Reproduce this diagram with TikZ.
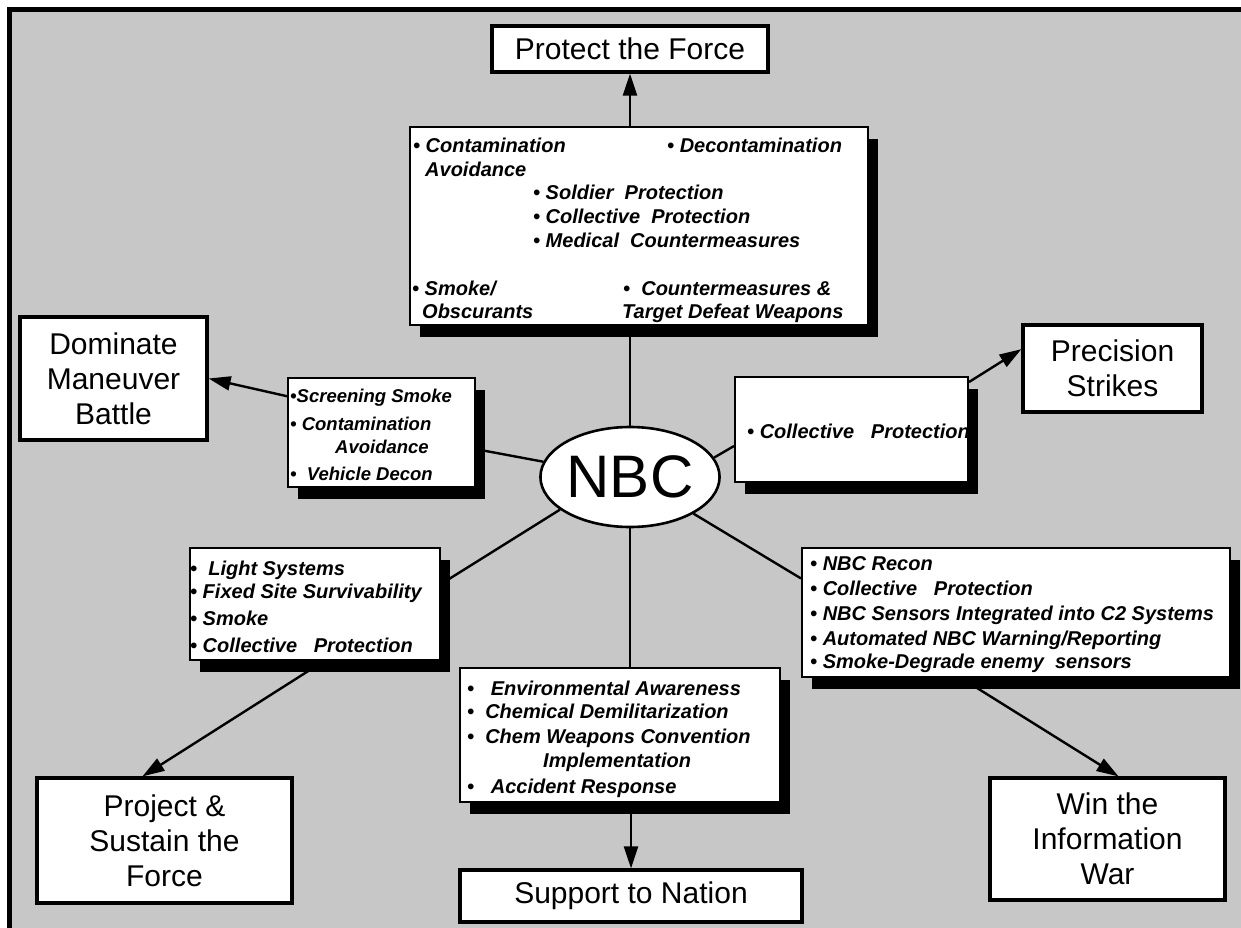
\documentclass[tikz,border=0pt]{standalone}
\usepackage{fontspec}
\setmainfont{Liberation Sans}
\usetikzlibrary{shapes.geometric,arrows.meta,shadows}

\begin{document}
\begin{tikzpicture}[x=1pt,y=-1pt,
  goal/.style={draw=black,line width=3.2pt,fill=white,inner sep=0pt,align=center,font=\fontsize{30}{35}\selectfont},
  card/.style={draw=black,line width=2pt,fill=white,inner sep=0pt,drop shadow={shadow xshift=10pt,shadow yshift=-12pt,fill=black,opacity=1}},
  item/.style={anchor=base west,inner sep=0pt,font=\fontsize{20}{22}\selectfont\bfseries\itshape},
  small/.style={item,font=\fontsize{18.5}{21}\selectfont\bfseries\itshape},
  link/.style={line width=2.4pt},
  flow/.style={line width=2.4pt,-{Triangle[length=22pt,width=14pt]}}]
\useasboundingbox (0,0) rectangle (1241,928);
\fill[white] (0,0) rectangle (1241,928);
\fill[black!22] (9,9) rectangle (1241,928);
\draw[line width=4.5pt] (9.5,928) -- (9.5,9.5) -- (1241,9.5);
% goals
\node[goal,minimum width=276pt,minimum height=46pt] (protect) at (630,49) {Protect the Force};
\node[goal,minimum width=187pt,minimum height=123pt] (dominate) at (113.5,378.5) {Dominate\\Maneuver\\Battle};
\node[goal,minimum width=179pt,minimum height=87pt] (precision) at (1112.5,368.5) {Precision\\Strikes};
\node[goal,minimum width=255pt,minimum height=125pt] (project) at (164.5,840.5) {Project \&\\Sustain the\\Force};
\node[goal,minimum width=342pt,minimum height=52pt] (support) at (631,896) {Support to Nation};
\node[goal,minimum width=235pt,minimum height=122pt] (win) at (1107.5,839) {Win the\\Information\\War};
% centre
\node[ellipse,draw=black,line width=2.6pt,fill=white,minimum width=160pt,minimum height=100pt,inner sep=0pt,font=\fontsize{60}{60}\selectfont] (nbc) at (630,477) {NBC};
% item cards
\node[card,minimum width=458pt,minimum height=198pt] (avoidbox) at (639,226) {};
\node[card,minimum width=187pt,minimum height=109pt] (screenbox) at (381.5,432.5) {};
\node[card,minimum width=233pt,minimum height=105pt] (colbox) at (851.5,429.5) {};
\node[card,minimum width=250pt,minimum height=112pt] (litebox) at (315,604) {};
\node[card,minimum width=320pt,minimum height=134pt] (envbox) at (620,735) {};
\node[card,minimum width=428pt,minimum height=129pt] (reconbox) at (1016,612.5) {};
% protect the force items
\node[item] (pa) at (413,153) {• Contamination};
\node[item] (pb) at (425,176) {Avoidance};
\node[item] (pc) at (667,153) {• Decontamination};
\node[item] (pd) at (533,199) {• Soldier\ \ Protection};
\node[item] (pe) at (533,223) {• Collective\ \ Protection};
\node[item] (pf) at (533,247) {• Medical\ \ Countermeasures};
\node[item] (pg) at (412,295) {• Smoke/};
\node[item] (ph) at (422,318) {Obscurants};
\node[item] (pi) at (623,295) {•\ \ Countermeasures \&};
\node[item] (pj) at (622,318) {Target Defeat Weapons};
% maneuver items
\node[small] (sa) at (290,402) {•Screening Smoke};
\node[small] (sb) at (290,430) {• Contamination};
\node[small] (sc) at (335,453) {Avoidance};
\node[small] (sd) at (290,480) {•\ \ Vehicle Decon};
% strike item
\node[item] (ca) at (747,438) {• Collective\ \ \ Protection};
% sustain items
\node[item] (la) at (190,575) {•\ \ Light Systems};
\node[item] (lb) at (190,598) {• Fixed Site Survivability};
\node[item] (lc) at (190,625) {• Smoke};
\node[item] (ld) at (190,652) {• Collective\ \ \ Protection};
% nation items
\node[item] (ea) at (467,695) {•\ \ \ Environmental Awareness};
\node[item] (eb) at (467,718) {•\ \ Chemical Demilitarization};
\node[item] (ec) at (467,743) {•\ \ Chem Weapons Convention};
\node[item] (ed) at (543,767) {Implementation};
\node[item] (ee) at (467,793) {•\ \ \ Accident Response};
% information items
\node[item] (ra) at (810,570) {• NBC Recon};
\node[item] (rb) at (810,595) {• Collective\ \ \ Protection};
\node[item] (rc) at (810,620) {• NBC Sensors Integrated into C2 Systems};
\node[item] (rd) at (810,645) {• Automated NBC Warning/Reporting};
\node[item] (re) at (810,668) {• Smoke-Degrade enemy\ \ sensors};
% connectors
\draw[link] (nbc.north) -- (nbc.north |- avoidbox.south);
\draw[flow] (protect.south |- avoidbox.north) -- (protect.south);
\draw[link] (nbc.170) -- (screenbox.-10);
\draw[flow] (screenbox.159) -- (dominate.east);
\draw[link] (nbc.13) -- (colbox.188);
\draw[flow] (colbox.22) -- (precision.168);
\draw[link] (nbc.205) -- (litebox.9);
\draw[flow] (litebox.-81) -- (project.109);
\draw[link] (nbc.south) -- (nbc.south |- envbox.north);
\draw[flow] (support.north |- envbox.south) -- (support.north);
\draw[link] (nbc.-30) -- (reconbox.171);
\draw[flow] (reconbox.-130) -- (win.80);
\end{tikzpicture}
\end{document}
